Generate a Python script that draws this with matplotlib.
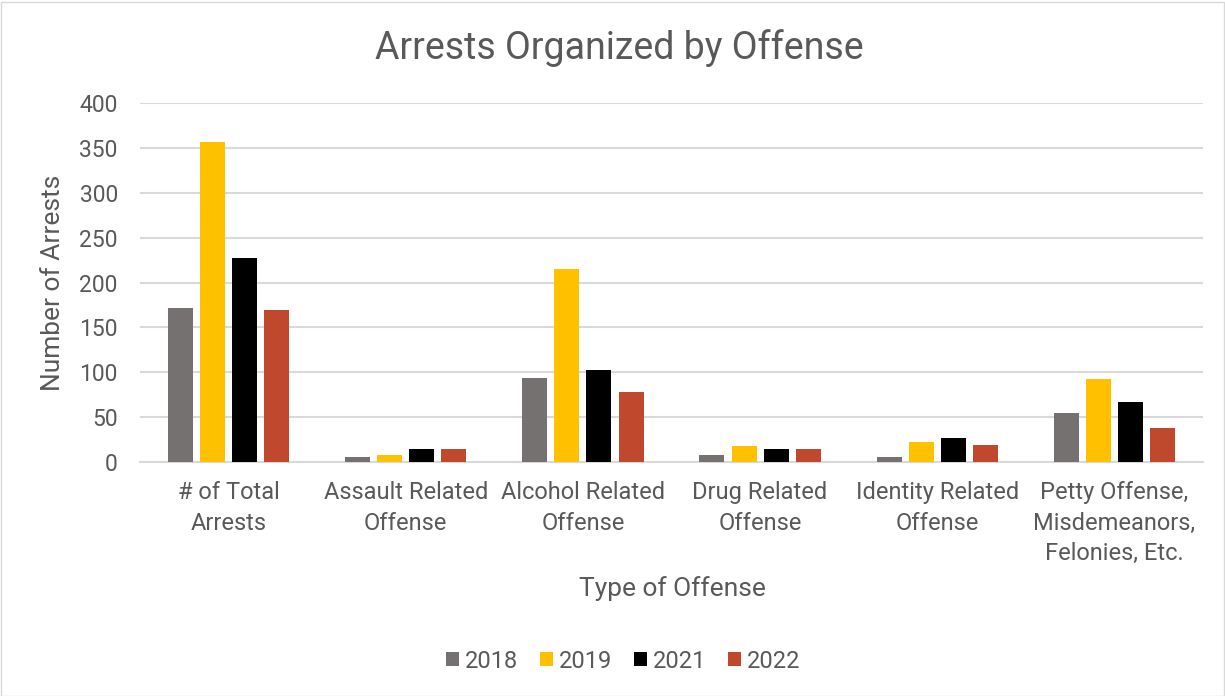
import matplotlib.pyplot as plt
from matplotlib.patches import Rectangle
import numpy as np

plt.rcParams['font.family'] = ['Roboto', 'DejaVu Sans']

# data
categories = ['# of Total\nArrests', 'Assault Related\nOffense', 'Alcohol Related\nOffense',
              'Drug Related\nOffense', 'Identity Related\nOffense',
              'Petty Offense,\nMisdemeanors,\nFelonies, Etc.']
years = ['2018', '2019', '2021', '2022']
arrests_2018 = [172, 6, 94, 8, 6, 55]
arrests_2019 = [357, 8, 215, 18, 22, 92]
arrests_2021 = [227, 15, 103, 14, 27, 67]
arrests_2022 = [169, 14, 78, 15, 19, 38]
colors = ['#767171', '#FFC000', '#000000', '#C0482C']

text_col = '#595959'
grid_col = '#D9D9D9'

fig = plt.figure(figsize=(12.25, 6.96), dpi=100)
ax = fig.add_axes([140 / 1225, 1 - 462 / 696, 1063 / 1225, 359 / 696])

x = np.arange(len(categories))
pitch = 0.181
width = 0.141
series = [arrests_2018, arrests_2019, arrests_2021, arrests_2022]
for i, (vals, yr, c) in enumerate(zip(series, years, colors)):
    ax.bar(x + (i - 1.5) * pitch, vals, width, color=c, label=yr, zorder=3)

ax.set_xlim(-0.5, len(categories) - 0.5)
ax.set_ylim(0, 400)
ax.set_yticks(np.arange(0, 401, 50))
ax.set_xticks(x)
ax.set_xticklabels(categories, fontsize=17, color=text_col, linespacing=1.4)
ax.tick_params(axis='y', labelsize=16.5, colors=text_col, length=0, pad=16)
ax.tick_params(axis='x', length=0, pad=14)
ax.grid(axis='y', color=grid_col, linewidth=1.5, zorder=0)
for s in ['top', 'right', 'left']:
    ax.spines[s].set_visible(False)
ax.spines['bottom'].set_color(grid_col)
ax.spines['bottom'].set_linewidth(1.5)

ax.set_ylabel('Number of Arrests', fontsize=19, color=text_col, labelpad=10)
fig.text(672 / 1225, 1 - 589 / 696, 'Type of Offense', fontsize=19, color=text_col,
         ha='center', va='center')
fig.text(619 / 1225, 1 - 48 / 696, 'Arrests Organized by Offense', fontsize=27,
         color=text_col, ha='center', va='center')

fig.legend(loc='center', bbox_to_anchor=(623 / 1225, 1 - 661 / 696), ncol=4, frameon=False,
           fontsize=17, labelcolor=text_col, handlelength=0.55, handleheight=0.55,
           handletextpad=0.25, columnspacing=0.93)

fig.patches.append(Rectangle((0.5 / 1225, 0.5 / 696), 1223 / 1225, 694 / 696,
                             transform=fig.transFigure, fill=False, edgecolor='#D9D9D9',
                             linewidth=1))

fig.savefig('out.png', dpi=100, facecolor='white')
